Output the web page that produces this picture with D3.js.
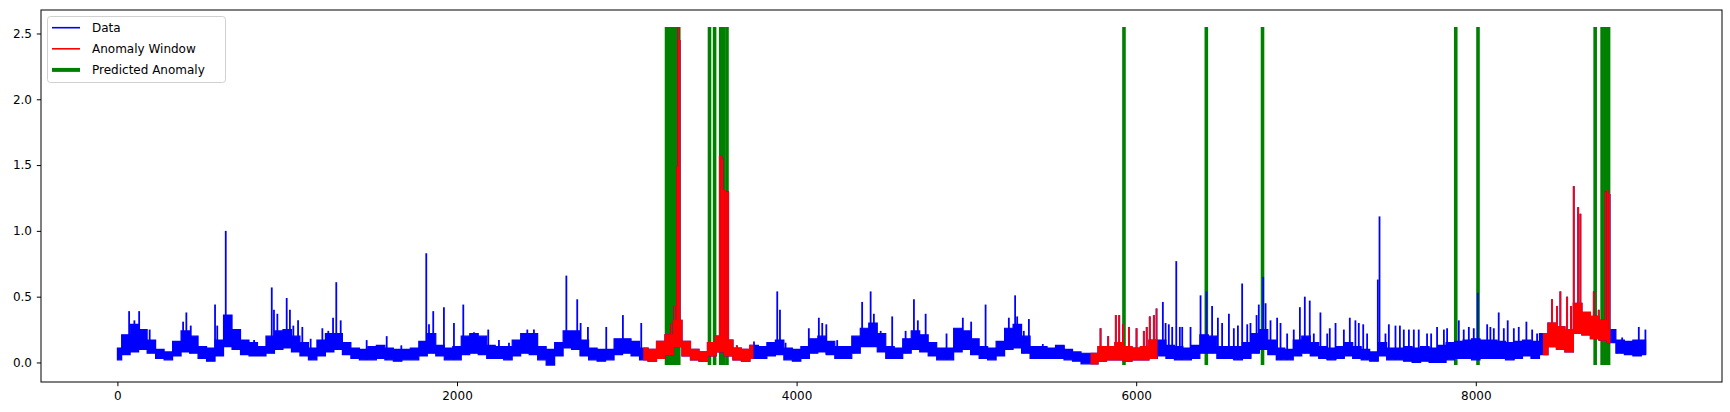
<!DOCTYPE html>
<html><head><meta charset="utf-8">
<script src="https://cdn.jsdelivr.net/npm/d3@7"></script>
<style>body{margin:0;background:#fff;} svg{display:block;} text{font-family:"DejaVu Sans",sans-serif;}</style>
</head><body><svg id="chart" width="1730" height="412"></svg>
<script>
// ---- data ----
const bandStart = 0, bandStep = 50;
// lower / upper envelope of the dense signal, one value every 50 samples (0..9000)
const bandLow = [
0.02,0.06,0.08,0.10,0.07,0.03,0.02,0.05,0.08,0.07,0.03,0.01,0.05,0.12,0.10,0.06,0.05,0.05,0.07,0.10,
0.11,0.08,0.05,0.02,0.05,0.08,0.10,0.06,0.03,0.02,0.02,0.03,0.02,0.01,0.02,0.02,0.05,0.07,0.05,0.02,
0.02,0.06,0.07,0.06,0.03,0.03,0.02,0.05,0.07,0.06,0.02,-0.02,0.05,0.11,0.10,0.05,0.02,0.01,0.02,0.06,
0.07,0.05,0.02,0.01,0.03,0.06,0.12,0.05,0.02,0.01,0.05,0.08,0.05,0.02,0.01,0.03,0.03,0.05,0.06,0.02,
0.01,0.03,0.07,0.08,0.06,0.03,0.03,0.07,0.12,0.12,0.08,0.03,0.03,0.07,0.10,0.08,0.05,0.02,0.02,0.08,
0.10,0.06,0.03,0.02,0.05,0.10,0.11,0.07,0.03,0.03,0.03,0.03,0.02,0.01,-0.01,-0.01,0.01,0.02,0.02,0.01,
0.02,0.02,0.03,0.05,0.03,0.02,0.02,0.03,0.07,0.07,0.03,0.03,0.02,0.03,0.07,0.10,0.06,0.02,0.02,0.05,
0.07,0.05,0.03,0.02,0.03,0.05,0.03,0.02,0.01,0.05,0.02,0.02,0.01,0.00,0.01,0.00,0.00,0.02,0.03,0.03,
0.02,0.03,0.03,0.03,0.02,0.03,0.05,0.03,0.06,0.12,0.10,0.08,0.22,0.21,0.18,0.17,0.15,0.07,0.06,0.05,
0.06];
const bandHigh = [
0.11,0.21,0.29,0.25,0.17,0.10,0.08,0.16,0.24,0.20,0.12,0.11,0.17,0.36,0.25,0.17,0.15,0.12,0.20,0.24,
0.25,0.20,0.15,0.11,0.17,0.22,0.22,0.15,0.11,0.10,0.12,0.13,0.11,0.10,0.10,0.11,0.16,0.22,0.13,0.11,
0.12,0.20,0.22,0.20,0.13,0.12,0.12,0.17,0.22,0.22,0.12,0.10,0.15,0.24,0.24,0.17,0.11,0.10,0.10,0.18,
0.18,0.16,0.11,0.10,0.16,0.21,0.32,0.16,0.10,0.08,0.15,0.20,0.17,0.11,0.10,0.13,0.12,0.15,0.17,0.11,
0.10,0.12,0.18,0.20,0.16,0.12,0.12,0.20,0.26,0.30,0.22,0.12,0.11,0.18,0.24,0.21,0.15,0.11,0.11,0.26,
0.24,0.18,0.12,0.11,0.16,0.26,0.29,0.20,0.12,0.12,0.11,0.13,0.10,0.08,0.07,0.07,0.12,0.12,0.15,0.12,
0.11,0.12,0.17,0.17,0.13,0.12,0.11,0.13,0.21,0.20,0.12,0.12,0.12,0.15,0.22,0.25,0.17,0.11,0.10,0.17,
0.20,0.15,0.12,0.11,0.12,0.15,0.12,0.10,0.08,0.15,0.11,0.11,0.12,0.11,0.12,0.11,0.13,0.15,0.16,0.17,
0.18,0.17,0.17,0.16,0.15,0.16,0.17,0.16,0.22,0.30,0.27,0.25,0.45,0.38,0.35,0.32,0.25,0.17,0.16,0.17,
0.17];
// isolated spikes: [sample index, peak value]
const spikes = [
[69,0.39],[100,0.32],[128,0.39],[190,0.25],[387,0.31],[406,0.38],[432,0.28],[575,0.44],[588,0.28],[638,1.00],[805,0.17],[909,0.57],[922,0.40],[942,0.37],[997,0.49],[1016,0.40],[1036,0.28],[1064,0.32],[1089,0.27],[1138,0.18],[1207,0.26],[1242,0.24],[1270,0.34],[1289,0.61],[1315,0.32],
[1468,0.17],[1586,0.20],[1672,0.13],[1819,0.83],[1835,0.29],[1860,0.39],[1923,0.42],[1982,0.30],[2037,0.44],[2100,0.23],[2184,0.25],[2247,0.17],[2306,0.15],[2414,0.25],[2453,0.25],[2644,0.66],[2708,0.48],[2728,0.30],[2771,0.27],[2879,0.27],[2977,0.36],
[3085,0.30],[3262,0.30],[3280,0.43],[3296,1.49],[3303,2.55],[3311,2.45],[3524,0.20],[3548,1.57],[3556,1.57],[3563,1.55],[3571,1.31],[3580,1.31],[3590,1.30],[3597,1.30],[3648,0.13],
[3749,0.16],[3886,0.54],[3902,0.40],[3935,0.15],[4072,0.26],[4101,0.15],[4131,0.34],[4151,0.30],[4175,0.29],[4239,0.17],[4337,0.20],[4386,0.46],[4436,0.54],[4455,0.37],
[4495,0.24],[4563,0.35],[4642,0.24],[4691,0.48],[4714,0.32],[4760,0.37],[4883,0.22],[4979,0.34],[5028,0.31],[5113,0.44],[5250,0.34],[5287,0.51],[5299,0.35],[5338,0.24],[5368,0.33],[5450,0.14],[5574,0.13],
[5790,0.26],[5835,0.20],[5880,0.36],[5900,0.36],[5923,0.29],[5957,0.27],[6002,0.26],[6045,0.24],[6062,0.27],[6080,0.35],[6104,0.36],[6120,0.41],
[6157,0.46],[6173,0.30],[6192,0.29],[6212,0.27],[6236,0.77],[6257,0.27],[6271,0.27],[6320,0.27],[6379,0.51],[6414,0.54],[6447,0.43],[6481,0.34],[6506,0.30],[6546,0.37],[6575,0.26],[6599,0.28],[6624,0.60],[6654,0.29],[6673,0.30],[6709,0.36],[6722,0.44],[6748,0.65],[6762,0.45],[6791,0.32],[6830,0.34],[6850,0.30],[6889,0.22],[6928,0.25],[6964,0.42],[6993,0.50],[7022,0.47],[7046,0.22],[7085,0.38],[7125,0.22],[7140,0.26],[7174,0.30],[7223,0.25],[7258,0.34],[7291,0.32],[7311,0.30],[7337,0.29],[7360,0.22],[7423,0.63],[7433,1.11],[7468,0.22],[7488,0.29],[7527,0.28],[7553,0.28],[7576,0.25],
[7606,0.25],[7635,0.25],[7664,0.25],[7713,0.22],[7737,0.22],[7772,0.27],[7812,0.25],[7831,0.26],[7900,0.32],[7929,0.25],[7959,0.27],[7988,0.26],[8012,0.53],[8067,0.29],[8086,0.27],[8106,0.26],[8135,0.38],[8165,0.26],[8188,0.32],[8224,0.26],[8253,0.27],[8298,0.31],[8332,0.25],[8361,0.22],
[8449,0.48],[8479,0.43],[8498,0.54],[8538,0.50],[8561,0.43],[8577,1.34],[8603,1.18],[8616,1.13],[8695,0.54],[8724,0.40],[8765,1.30],[8778,1.31],[8788,1.28],
[8832,0.17],[8862,0.19],[8960,0.27],[8999,0.25]
];
const anomalyWindows = [[3097,3745],[5731,6125],[8396,8793]];
const predictedAnomalies = [3234,3252,3270,3288,3306,3487,3517,3553,3571,3590,5928,6413,6744,7882,8013,8703,8744,8762,8782];
const xTicks = [0,2000,4000,6000,8000];
const yTicks = [0,0.5,1.0,1.5,2.0,2.5];
const legendLabels = ["Data","Anomaly Window","Predicted Anomaly"];
const colors = {data:"#0000ff", window:"#ff0000", pred:"#008000"};

// ---- layout ----
const m = {l:41, t:10, r:1722, b:382};
const svg = d3.select("#chart");

const series = bandLow.map((lo,i)=>({x: bandStart+i*bandStep, lo, hi: bandHigh[i]}));
const allVals = bandLow.concat(bandHigh, spikes.map(s=>s[1]));
const yMin = d3.min(allVals), yMax = d3.max(allVals);
const xMin = series[0].x, xMax = series[series.length-1].x;
const xPad = (xMax-xMin)*0.05, yPad = (yMax-yMin)*0.05;
const x = d3.scaleLinear().domain([xMin-xPad, xMax+xPad]).range([m.l, m.r]);
const y = d3.scaleLinear().domain([yMin-yPad, yMax+yPad]).range([m.b, m.t]);
const lowAt = v => series[Math.max(0, Math.min(series.length-1, Math.round((v-bandStart)/bandStep)))].lo;

const defs = svg.append("defs");
defs.append("clipPath").attr("id","plotClip").append("rect")
  .attr("x",m.l).attr("y",m.t).attr("width",m.r-m.l).attr("height",m.b-m.t);
const wc = defs.append("clipPath").attr("id","winClip");
wc.selectAll("rect").data(anomalyWindows).join("rect")
  .attr("x",d=>x(d[0])).attr("width",d=>x(d[1])-x(d[0]))
  .attr("y",m.t).attr("height",m.b-m.t);

const plot = svg.append("g").attr("clip-path","url(#plotClip)");

// predicted anomalies (vertical lines spanning data range)
plot.append("g").selectAll("line").data(predictedAnomalies).join("line")
  .attr("x1",d=>x(d)).attr("x2",d=>x(d))
  .attr("y1",y(yMin)).attr("y2",y(yMax))
  .attr("stroke",colors.pred).attr("stroke-width",3.6);

const area = d3.area().curve(d3.curveStep).x(d=>x(d.x)).y0(d=>y(d.lo)).y1(d=>y(d.hi));

function drawSeries(g, color){
  g.append("path").datum(series).attr("d",area)
    .attr("fill",color).attr("stroke",color).attr("stroke-width",1.2).attr("stroke-linejoin","miter");
  g.append("g").selectAll("line").data(spikes).join("line")
    .attr("x1",d=>x(d[0])).attr("x2",d=>x(d[0]))
    .attr("y1",d=>y(lowAt(d[0]))).attr("y2",d=>y(d[1]))
    .attr("stroke",color).attr("stroke-width",1.8);
}
drawSeries(plot.append("g"), colors.data);
drawSeries(plot.append("g").attr("clip-path","url(#winClip)"), colors.window);

// axes
const fmtY = d3.format(".1f");
const gx = svg.append("g").attr("transform",`translate(0,${m.b})`)
  .call(d3.axisBottom(x).tickValues(xTicks).tickSize(4.2).tickPadding(5.5).tickFormat(d3.format("d")));
const gy = svg.append("g").attr("transform",`translate(${m.l},0)`)
  .call(d3.axisLeft(y).tickValues(yTicks).tickSize(4.2).tickPadding(4.8).tickFormat(fmtY));
[gx,gy].forEach(g=>{
  g.select(".domain").remove();
  g.selectAll("line").attr("stroke","#000").attr("stroke-width",1);
  g.selectAll("text").attr("fill","#000").style("font-size","12px").style("font-family","DejaVu Sans, sans-serif");
});
svg.append("rect").attr("x",m.l).attr("y",m.t).attr("width",m.r-m.l).attr("height",m.b-m.t)
  .attr("fill","none").attr("stroke","#000").attr("stroke-width",1);

// legend
const leg = svg.append("g");
leg.append("rect").attr("x",47.5).attr("y",16.5).attr("width",178).attr("height",66).attr("rx",3)
  .attr("fill","#fff").attr("fill-opacity",0.85).attr("stroke","#d0d0d0").attr("stroke-width",1);
const legColors = [colors.data, colors.window, colors.pred];
const legWidths = [1.6, 1.6, 4];
const rows = leg.selectAll("g.row").data(legendLabels).join("g").attr("class","row")
  .attr("transform",(d,i)=>`translate(0,${27.7 + i*21.1})`);
rows.append("line").attr("x1",52).attr("x2",80).attr("y1",0).attr("y2",0)
  .attr("stroke",(d,i)=>legColors[i]).attr("stroke-width",(d,i)=>legWidths[i]);
rows.append("text").attr("x",92).attr("y",0).attr("dy","0.36em").style("font-size","12px").attr("fill","#000").text(d=>d);
</script></body></html>
